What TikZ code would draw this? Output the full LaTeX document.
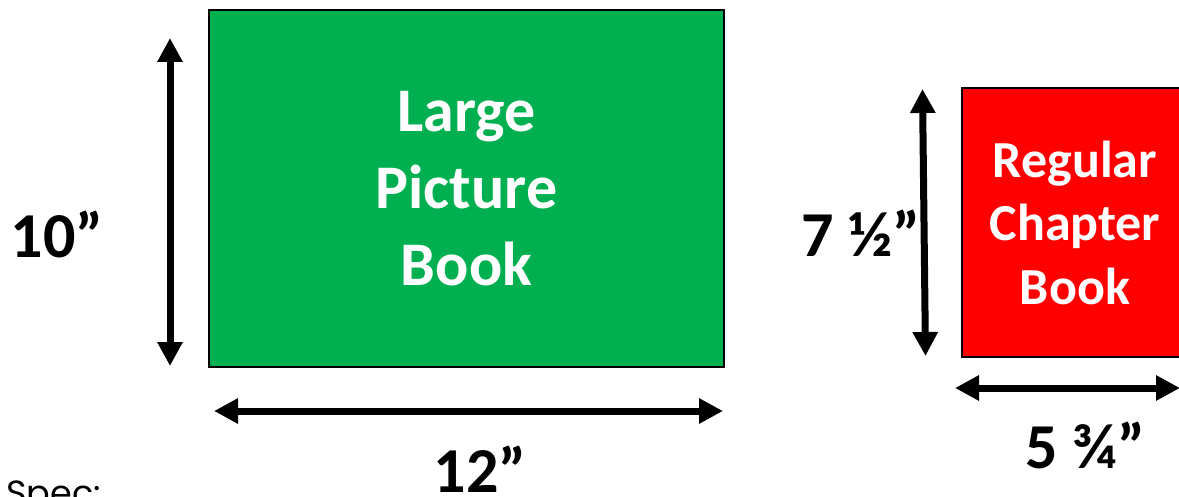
\documentclass[tikz,border=0pt]{standalone}
\usepackage{fontspec}
\setmainfont{Carlito}
\newfontfamily\popp{Poppins}
\usetikzlibrary{arrows.meta}
\definecolor{bookgreen}{HTML}{00B050}
\definecolor{bookred}{HTML}{FF0000}
\begin{document}
\begin{tikzpicture}[x=1pt,y=-1pt,
  book/.style={draw=black,line width=2pt,inner sep=0pt,align=center,text=white,font=\bfseries},
  dimarrow/.style={line width=7pt,{Triangle[width=24pt,length=24pt]}-{Triangle[width=24pt,length=24pt]}},
  dimlabel/.style={anchor=base,inner sep=0pt,font=\fontsize{64}{70}\selectfont\bfseries}]
\useasboundingbox (0,0) rectangle (1179,497);
% green book
\node[book,fill=bookgreen,minimum width=515pt,minimum height=356pt,
  font=\fontsize{62}{77}\selectfont\bfseries] (green) at (466.5,188.5) {Large\\Picture\\Book};
% red book
\node[book,fill=bookred,minimum width=226pt,minimum height=269pt,
  font=\fontsize{52}{63.5}\selectfont\bfseries] (red) at (1075,222.5) {Regular\\Chapter\\Book};
% green arrows
\coordinate (gvt) at (170,38);
\coordinate (gvb) at (170,366);
\coordinate (ghl) at (214,411);
\coordinate (ghr) at (723,411);
\draw[dimarrow] (gvt) -- (gvb);
\draw[dimarrow] (ghl) -- (ghr);
% red arrows
\coordinate (rvt) at (922.5,89);
\coordinate (rvb) at (925.5,356);
\coordinate (rhl) at (955,388);
\coordinate (rhr) at (1180,388);
\draw[dimarrow] (rvt) -- (rvb);
\draw[dimarrow] (rhl) -- (rhr);
% labels
\node[dimlabel] (l10) at (57,258) {10”};
\node[dimlabel] (l12) at (480,492) {12”};
\node[dimlabel] (l7) at (861,257) {7 ½”};
\node[dimlabel] (l5) at (1085,468) {5 ¾”};
\node[anchor=base west,inner sep=0pt,font=\popp\fontsize{35}{40}\selectfont] (spec) at (6,505) {Spec:};
\end{tikzpicture}
\end{document}
